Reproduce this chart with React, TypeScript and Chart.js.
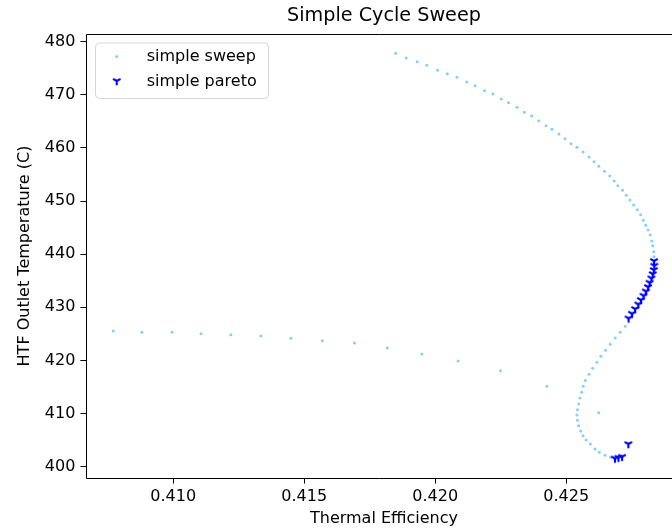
import React, { useEffect, useRef } from 'react';
import { Chart, registerables } from 'chart.js';

Chart.register(...registerables);

// ---- data ----
const sweepEfficiency = [
  0.40771, 0.4088, 0.40995, 0.41106, 0.4122, 0.41335, 0.41449, 0.41569, 0.41692, 0.41817, 0.41949, 0.42087, 0.42249, 0.42426, 0.42624,
  0.41849, 0.41889, 0.41931, 0.41968, 0.42009, 0.42046, 0.42083, 0.4212, 0.42152, 0.42188, 0.4222, 0.42252, 0.4228, 0.42312, 0.4234,
  0.42368, 0.42395, 0.42423, 0.42445, 0.42472, 0.42495, 0.42518, 0.42541, 0.42564, 0.42587, 0.42606, 0.42624, 0.42646, 0.42666, 0.42683,
  0.42697, 0.42715, 0.42729, 0.42743, 0.42757, 0.42771, 0.42784, 0.42794, 0.42803, 0.42812, 0.4282, 0.42826, 0.4283, 0.42834, 0.42835,
  0.42835, 0.42836, 0.42834, 0.4283, 0.42825, 0.42818, 0.42812, 0.42804, 0.42795, 0.42785, 0.42775, 0.42763, 0.42751, 0.42738,
  0.42725, 0.42706, 0.42687, 0.42668, 0.4265, 0.42632, 0.42617, 0.42601, 0.42587, 0.42573, 0.42565, 0.42559, 0.42552, 0.42548, 0.42543,
  0.42541, 0.42543, 0.42547, 0.42555, 0.42564, 0.42576, 0.42592, 0.4261, 0.42626, 0.42648, 0.42669,
  0.42686, 0.42699, 0.42713, 0.42737,
];
const sweepTemperature = [
  425.54, 425.29, 425.29, 425.04, 424.85, 424.6, 424.16, 423.72, 423.29, 422.34, 421.21, 419.9, 418.08, 415.13, 410.17,
  477.81, 476.93, 476.24, 475.55, 474.61, 473.98, 473.3, 472.42, 471.73, 470.78, 470.16, 469.22, 468.53, 467.65, 466.71,
  466.02, 465.14, 464.19, 463.51, 462.63, 461.75, 460.81, 460.12, 459.24, 458.3, 457.42, 456.54, 455.6, 454.72, 453.78,
  452.9, 452.02, 451.08, 450.2, 449.26, 448.38, 447.44, 446.38, 445.44, 444.56, 443.62, 442.49, 441.61, 440.48, 439.54,
  438.72, 437.84, 437.03, 436.27, 435.46, 434.64, 433.83, 433.01, 432.19, 431.38, 430.56, 429.69, 428.81, 427.93,
  426.42, 425.29, 424.23, 423.03, 421.91, 420.78, 419.65, 418.52, 417.39, 416.23, 415.13, 414.0, 412.93, 411.8, 410.74,
  409.73, 408.73, 407.72, 406.72, 405.84, 405.03, 404.27, 403.33, 402.7, 402.14, 401.76,
  401.54, 401.69, 401.86, 404.27,
];
const paretoEfficiency = [
  0.42835, 0.42836, 0.42834, 0.4283, 0.42825, 0.42818, 0.42812, 0.42804, 0.42795, 0.42785, 0.42775, 0.42763, 0.42751, 0.42738,
  0.42686, 0.42699, 0.42713, 0.42737,
];
const paretoTemperature = [
  438.72, 437.84, 437.03, 436.27, 435.46, 434.64, 433.83, 433.01, 432.19, 431.38, 430.56, 429.69, 428.81, 427.93,
  401.54, 401.69, 401.86, 404.27,
];
const xTickValues = [0.41, 0.415, 0.42, 0.425];
const yTickValues = [400, 410, 420, 430, 440, 450, 460, 470, 480];
const titleText = 'Simple Cycle Sweep';
const xLabel = 'Thermal Efficiency';
const yLabel = 'HTF Outlet Temperature (C)';
const sweepLabel = 'simple sweep';
const paretoLabel = 'simple pareto';

const FONT = 'DejaVu Sans';
const SWEEP_COLOR = '#87CEFA';
const PARETO_COLOR = '#0000FF';
// the original axes run ~10px past the right edge of the picture; centre of that axes box
const AXES_CENTER_X = 384;

function makeTriDown(color: string, r: number, lw: number): HTMLCanvasElement {
  const size = 14;
  const c = document.createElement('canvas');
  c.width = size;
  c.height = size;
  const ctx = c.getContext('2d')!;
  const cx = size / 2;
  const cy = size / 2;
  ctx.strokeStyle = color;
  ctx.lineWidth = lw;
  ctx.lineCap = 'butt';
  ctx.beginPath();
  ctx.moveTo(cx, cy);
  ctx.lineTo(cx, cy + r);
  ctx.moveTo(cx, cy);
  ctx.lineTo(cx - r * 0.866, cy - r * 0.5);
  ctx.moveTo(cx, cy);
  ctx.lineTo(cx + r * 0.866, cy - r * 0.5);
  ctx.stroke();
  return c;
}

export default function App() {
  const canvasRef = useRef<HTMLCanvasElement | null>(null);

  useEffect(() => {
    const canvas = canvasRef.current;
    if (!canvas) return;
    const tri = makeTriDown(PARETO_COLOR, 4.3, 2.1);

    const sweepData = sweepEfficiency.map((x, i) => ({ x, y: sweepTemperature[i] }));
    const paretoData = paretoEfficiency.map((x, i) => ({ x, y: paretoTemperature[i] }));

    const framePlugin = {
      id: 'frameAndLegend',
      afterDraw(chart: any) {
        const { ctx, chartArea } = chart;
        const { left, right, top, bottom } = chartArea;
        ctx.save();
        // spines: top, left, bottom (the right one lies outside the picture)
        ctx.strokeStyle = '#000';
        ctx.lineWidth = 1;
        ctx.beginPath();
        ctx.moveTo(right + 2, top + 0.5);
        ctx.lineTo(left + 0.5, top + 0.5);
        ctx.lineTo(left + 0.5, bottom + 0.5);
        ctx.lineTo(right + 2, bottom + 0.5);
        ctx.stroke();

        // titles
        ctx.fillStyle = '#000';
        ctx.textAlign = 'center';
        ctx.textBaseline = 'middle';
        ctx.font = `19.2px "${FONT}"`;
        ctx.fillText(titleText, AXES_CENTER_X, 16);
        ctx.font = `16px "${FONT}"`;
        ctx.fillText(xLabel, AXES_CENTER_X, 518.4);

        // legend box (inside axes, upper left)
        const bx = 95.5, by = 43, bw = 173, bh = 55.5, rr = 4;
        ctx.beginPath();
        ctx.moveTo(bx + rr, by);
        ctx.lineTo(bx + bw - rr, by);
        ctx.arcTo(bx + bw, by, bx + bw, by + rr, rr);
        ctx.lineTo(bx + bw, by + bh - rr);
        ctx.arcTo(bx + bw, by + bh, bx + bw - rr, by + bh, rr);
        ctx.lineTo(bx + rr, by + bh);
        ctx.arcTo(bx, by + bh, bx, by + bh - rr, rr);
        ctx.lineTo(bx, by + rr);
        ctx.arcTo(bx, by, bx + rr, by, rr);
        ctx.closePath();
        ctx.fillStyle = 'rgba(255,255,255,0.8)';
        ctx.fill();
        ctx.strokeStyle = 'rgba(204,204,204,0.8)';
        ctx.lineWidth = 1;
        ctx.stroke();

        // legend markers
        ctx.fillStyle = SWEEP_COLOR;
        ctx.beginPath();
        ctx.arc(116.7, 56.5, 1.5, 0, Math.PI * 2);
        ctx.fill();
        ctx.drawImage(tri, 116.7 - tri.width / 2, 81 - tri.height / 2);

        // legend text
        ctx.fillStyle = '#000';
        ctx.font = `16px "${FONT}"`;
        ctx.textBaseline = 'alphabetic';
        ctx.textAlign = 'left';
        ctx.fillText(sweepLabel, 146.7, 61);
        ctx.fillText(paretoLabel, 146.7, 86);
        ctx.restore();
      },
    };

    const chart = new Chart(canvas, {
      type: 'scatter',
      data: {
        datasets: [
          {
            label: paretoLabel,
            data: paretoData,
            pointStyle: tri as any,
            pointRadius: 5,
            order: 0,
          },
          {
            label: sweepLabel,
            data: sweepData,
            backgroundColor: SWEEP_COLOR,
            borderWidth: 0,
            pointRadius: 1.5,
            order: 1,
          },
        ],
      },
      options: {
        animation: false,
        responsive: false,
        devicePixelRatio: 1,
        layout: { autoPadding: false, padding: { top: 34, left: 0, right: 0, bottom: 0 } },
        plugins: {
          legend: { display: false },
          tooltip: { enabled: false },
          title: { display: false },
        },
        scales: {
          x: {
            type: 'linear',
            min: 0.40667,
            max: 0.429036,
            afterBuildTicks: (scale: any) => {
              scale.ticks = xTickValues.map((v) => ({ value: v }));
            },
            afterFit: (scale: any) => {
              scale.height = 54;
              scale.paddingLeft = 0;
              scale.paddingRight = 0;
            },
            ticks: {
              color: '#000',
              font: { family: FONT, size: 16 },
              padding: 4,
              maxRotation: 0,
              callback: (v: any) => Number(v).toFixed(3),
            },
            grid: { display: true, drawOnChartArea: false, drawTicks: true, tickLength: 5.6, color: '#000' },
            border: { display: false },
            title: { display: false },
          },
          y: {
            type: 'linear',
            min: 397.87,
            max: 481.45,
            afterBuildTicks: (scale: any) => {
              scale.ticks = yTickValues.map((v) => ({ value: v }));
            },
            afterFit: (scale: any) => {
              scale.width = 86;
              scale.paddingTop = 0;
              scale.paddingBottom = 0;
            },
            ticks: {
              color: '#000',
              font: { family: FONT, size: 16 },
              padding: 5,
              callback: (v: any) => String(v),
            },
            grid: { display: true, drawOnChartArea: false, drawTicks: true, tickLength: 5.6, color: '#000' },
            border: { display: false },
            title: {
              display: true,
              text: yLabel,
              color: '#000',
              font: { family: FONT, size: 16 },
              padding: { top: 15, bottom: 0 },
            },
          },
        },
      },
      plugins: [framePlugin],
    } as any);

    return () => chart.destroy();
  }, []);

  return (
    <div
      style={{
        position: 'fixed',
        left: 0,
        top: 0,
        width: 672,
        height: 532,
        overflow: 'hidden',
        background: '#fff',
      }}
    >
      <canvas ref={canvasRef} width={672} height={532} style={{ display: 'block', width: 672, height: 532 }} />
    </div>
  );
}
